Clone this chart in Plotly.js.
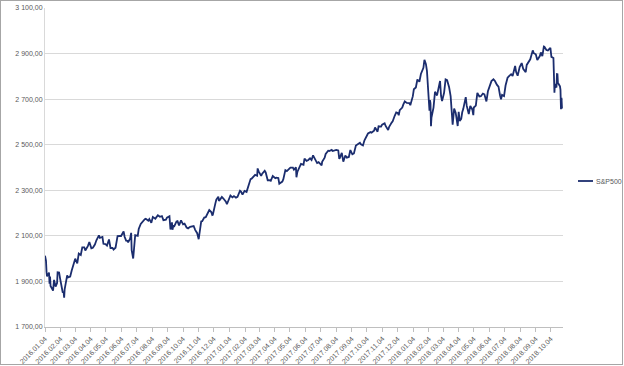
<!DOCTYPE html>
<html>
<head>
<meta charset="utf-8">
<script src="https://cdn.plot.ly/plotly-3.0.1.min.js"></script>
<style>
html,body{margin:0;padding:0;background:#fff;}
#wrap{position:relative;width:624px;height:366px;}
#chart{width:624px;height:366px;}
#frame{position:absolute;left:0;top:0;width:621px;height:363px;border:1px solid #a6a6a6;pointer-events:none;}
</style>
</head>
<body>
<div id="wrap"><div id="chart"></div><div id="frame"></div></div>
<script>
const seriesName = "S&P500";
const dates = [
"2016-01-04","2016-01-06","2016-01-07","2016-01-08","2016-01-12","2016-01-13","2016-01-14","2016-01-15","2016-01-20","2016-01-22","2016-01-25","2016-01-28","2016-01-29",
"2016-02-01","2016-02-03","2016-02-05","2016-02-08","2016-02-10","2016-02-11","2016-02-12","2016-02-17","2016-02-19","2016-02-23","2016-02-26",
"2016-03-01","2016-03-04","2016-03-08","2016-03-11","2016-03-15","2016-03-18","2016-03-22","2016-03-24","2016-03-29",
"2016-04-01","2016-04-05","2016-04-08","2016-04-12","2016-04-15","2016-04-20","2016-04-22","2016-04-27","2016-04-29",
"2016-05-03","2016-05-06","2016-05-10","2016-05-13","2016-05-17","2016-05-19","2016-05-23","2016-05-27",
"2016-06-01","2016-06-03","2016-06-08","2016-06-10","2016-06-13","2016-06-16","2016-06-17","2016-06-21","2016-06-23","2016-06-24","2016-06-27","2016-06-30",
"2016-07-01","2016-07-06","2016-07-08","2016-07-12","2016-07-15","2016-07-20","2016-07-22","2016-07-27","2016-07-29",
"2016-08-02","2016-08-05","2016-08-10","2016-08-15","2016-08-19","2016-08-23","2016-08-26","2016-08-31",
"2016-09-02","2016-09-07","2016-09-09","2016-09-12","2016-09-13","2016-09-15","2016-09-16","2016-09-21","2016-09-23","2016-09-26","2016-09-30",
"2016-10-04","2016-10-07","2016-10-11","2016-10-14","2016-10-18","2016-10-21","2016-10-25","2016-10-28",
"2016-11-01","2016-11-04","2016-11-07","2016-11-09","2016-11-11","2016-11-15","2016-11-18","2016-11-22","2016-11-25","2016-11-29",
"2016-12-01","2016-12-02","2016-12-07","2016-12-09","2016-12-13","2016-12-14","2016-12-16","2016-12-20","2016-12-23","2016-12-28","2016-12-30",
"2017-01-03","2017-01-06","2017-01-10","2017-01-13","2017-01-17","2017-01-20","2017-01-25","2017-01-27","2017-01-30",
"2017-02-03","2017-02-07","2017-02-10","2017-02-15","2017-02-17","2017-02-22","2017-02-24","2017-02-28",
"2017-03-01","2017-03-03","2017-03-08","2017-03-10","2017-03-15","2017-03-17","2017-03-21","2017-03-24","2017-03-27","2017-03-31",
"2017-04-05","2017-04-07","2017-04-11","2017-04-13","2017-04-19","2017-04-21","2017-04-25","2017-04-28",
"2017-05-02","2017-05-05","2017-05-10","2017-05-12","2017-05-16","2017-05-17","2017-05-19","2017-05-24","2017-05-26","2017-05-31",
"2017-06-02","2017-06-06","2017-06-09","2017-06-13","2017-06-16","2017-06-19","2017-06-23","2017-06-27","2017-06-30",
"2017-07-06","2017-07-07","2017-07-12","2017-07-14","2017-07-19","2017-07-21","2017-07-26","2017-07-28",
"2017-08-01","2017-08-04","2017-08-08","2017-08-10","2017-08-11","2017-08-15","2017-08-17","2017-08-18","2017-08-22","2017-08-25","2017-08-29",
"2017-09-01","2017-09-05","2017-09-08","2017-09-12","2017-09-15","2017-09-20","2017-09-22","2017-09-26","2017-09-29",
"2017-10-04","2017-10-06","2017-10-11","2017-10-13","2017-10-18","2017-10-20","2017-10-25","2017-10-27",
"2017-11-01","2017-11-03","2017-11-08","2017-11-10","2017-11-15","2017-11-17","2017-11-22","2017-11-24","2017-11-28",
"2017-12-01","2017-12-04","2017-12-06","2017-12-08","2017-12-13","2017-12-15","2017-12-18","2017-12-22","2017-12-27","2017-12-29",
"2018-01-03","2018-01-05","2018-01-09","2018-01-12","2018-01-16","2018-01-19","2018-01-24","2018-01-26","2018-01-29","2018-01-31",
"2018-02-02","2018-02-05","2018-02-06","2018-02-07","2018-02-08","2018-02-09","2018-02-13","2018-02-16","2018-02-20","2018-02-23","2018-02-26","2018-02-28",
"2018-03-02","2018-03-06","2018-03-09","2018-03-12","2018-03-16","2018-03-19","2018-03-22","2018-03-23","2018-03-26","2018-03-29",
"2018-04-02","2018-04-04","2018-04-06","2018-04-09","2018-04-11","2018-04-13","2018-04-18","2018-04-20","2018-04-24","2018-04-27",
"2018-05-01","2018-05-03","2018-05-04","2018-05-08","2018-05-11","2018-05-15","2018-05-18","2018-05-22","2018-05-25","2018-05-29",
"2018-06-01","2018-06-06","2018-06-08","2018-06-12","2018-06-15","2018-06-19","2018-06-22","2018-06-25","2018-06-27","2018-06-29",
"2018-07-03","2018-07-06","2018-07-10","2018-07-13","2018-07-17","2018-07-20","2018-07-25","2018-07-27","2018-07-30",
"2018-08-03","2018-08-07","2018-08-10","2018-08-15","2018-08-17","2018-08-21","2018-08-24","2018-08-29","2018-08-31",
"2018-09-04","2018-09-07","2018-09-12","2018-09-14","2018-09-17","2018-09-20","2018-09-21","2018-09-25","2018-09-28",
"2018-10-03","2018-10-05","2018-10-09","2018-10-10","2018-10-11","2018-10-12","2018-10-15","2018-10-16","2018-10-17","2018-10-18","2018-10-19","2018-10-22","2018-10-23","2018-10-24","2018-10-25","2018-10-26"
];
const values = [
2012.66,1990.26,1943.09,1922.03,1938.68,1890.28,1921.84,1880.33,1859.33,1906.90,1877.08,1893.36,1940.24,
1939.38,1912.53,1880.05,1853.44,1851.86,1829.08,1864.78,1926.82,1917.78,1921.27,1948.05,
1978.35,1999.99,1979.26,2022.19,2015.93,2049.58,2049.80,2035.94,2055.01,
2072.78,2045.17,2047.60,2061.72,2080.73,2102.40,2091.58,2095.15,2065.30,
2063.37,2057.14,2084.39,2046.61,2047.21,2040.04,2048.04,2099.06,
2099.33,2099.13,2119.12,2096.07,2079.06,2077.99,2071.22,2088.90,2113.32,2037.41,2000.54,2098.86,
2102.95,2099.73,2129.90,2152.14,2161.74,2173.02,2175.03,2166.58,2173.60,
2157.03,2182.87,2175.49,2190.15,2183.87,2186.90,2169.04,2170.95,
2179.98,2186.16,2127.81,2159.04,2127.02,2147.26,2139.16,2163.12,2164.69,2146.10,2168.27,
2150.49,2153.74,2136.73,2132.98,2139.60,2141.16,2143.16,2126.41,
2111.72,2085.18,2131.52,2163.26,2164.45,2180.39,2181.90,2202.94,2213.35,2204.66,
2191.08,2191.95,2241.35,2259.53,2271.72,2253.28,2258.07,2270.76,2263.79,2249.92,2238.83,
2257.83,2276.98,2268.90,2274.64,2267.89,2271.31,2298.37,2294.69,2280.90,
2297.42,2293.08,2316.10,2349.25,2351.16,2362.82,2367.34,2363.64,
2395.96,2383.12,2362.98,2372.60,2385.26,2378.25,2344.02,2343.98,2341.59,2362.72,
2352.95,2355.54,2353.78,2328.95,2338.17,2348.69,2388.61,2384.20,
2391.17,2399.29,2399.63,2390.90,2400.67,2357.03,2381.73,2404.39,2415.82,2411.80,
2439.07,2429.33,2431.77,2440.35,2433.15,2453.46,2438.30,2419.38,2423.41,
2409.75,2425.18,2443.25,2459.27,2473.83,2472.54,2477.57,2472.10,
2476.35,2476.83,2474.92,2438.21,2441.32,2464.61,2430.01,2425.55,2452.51,2443.05,2446.30,
2476.55,2457.85,2461.43,2496.48,2500.23,2508.24,2502.22,2496.84,2519.36,
2537.74,2549.33,2555.24,2553.17,2561.26,2575.21,2557.15,2581.07,
2579.36,2587.84,2594.38,2582.30,2564.62,2578.85,2597.08,2602.42,2627.04,
2642.22,2639.44,2629.27,2651.50,2662.85,2675.81,2690.16,2683.34,2682.62,2673.61,
2713.06,2743.15,2751.29,2786.24,2776.42,2810.30,2837.54,2872.87,2853.53,2823.81,
2762.13,2648.94,2695.14,2681.66,2581.00,2619.55,2662.94,2732.22,2716.26,2747.30,2779.60,2713.83,
2691.25,2728.12,2786.57,2783.02,2752.01,2712.92,2643.69,2588.26,2658.55,2640.87,
2581.88,2644.69,2604.47,2613.16,2642.19,2656.30,2708.64,2670.14,2634.56,2669.91,
2654.80,2629.73,2663.42,2671.92,2727.72,2711.45,2712.97,2724.44,2721.33,2689.86,
2734.62,2772.35,2779.03,2786.85,2779.66,2762.59,2754.88,2717.07,2699.63,2718.37,
2713.22,2759.82,2793.84,2801.31,2809.55,2801.83,2846.07,2818.82,2802.60,
2840.35,2858.45,2833.28,2818.37,2850.13,2862.96,2874.69,2914.04,2901.52,
2896.72,2871.68,2888.92,2904.98,2888.80,2930.75,2929.67,2915.56,2913.98,
2925.51,2885.57,2880.34,2785.68,2728.37,2767.13,2750.79,2809.92,2809.21,2768.78,2767.78,2755.88,2740.69,2656.10,2705.57,2658.69
];
const yTicks = [1700,1900,2100,2300,2500,2700,2900,3100];

const trace = {
  type: 'scatter', mode: 'lines', name: seriesName,
  x: dates, y: values,
  line: {color: '#1b2d6e', width: 1.8},
  hoverinfo: 'skip'
};

const plotL = 45, plotR = 563, plotT = 8, plotB = 327;
const pw = plotR - plotL, ph = plotB - plotT;
const legY = (plotB - 181) / ph;

const layout = {
  width: 624, height: 366,
  margin: {l: plotL, r: 624 - plotR, t: plotT, b: 366 - plotB, pad: 0},
  paper_bgcolor: '#ffffff', plot_bgcolor: '#ffffff',
  separators: ', ',
  showlegend: false,
  font: {family: 'Liberation Sans, Arial, sans-serif', size: 7, color: '#595959'},
  xaxis: {
    type: 'date',
    range: ['2016-01-04', '2018-10-28'],
    tick0: '2016-01-04', dtick: 'M1', tickformat: '%Y.%m.%d',
    tickangle: -45,
    ticks: 'outside', ticklen: 4, tickcolor: '#bfbfbf', tickwidth: 1,
    showline: true, linecolor: '#bfbfbf', linewidth: 1,
    showgrid: false, zeroline: false,
    tickfont: {size: 7, color: '#595959'}
  },
  yaxis: {
    range: [1700, 3100],
    tickvals: yTicks,
    tickformat: ',.2f',
    showgrid: true, gridcolor: '#d9d9d9', gridwidth: 1,
    showline: true, linecolor: '#d9d9d9', linewidth: 1,
    zeroline: false, ticks: '', 
    tickfont: {size: 7, color: '#595959'}
  },
  shapes: [{
    type: 'line', xref: 'paper', yref: 'paper',
    x0: (578 - plotL) / pw, x1: (593 - plotL) / pw, y0: legY, y1: legY,
    line: {color: '#1b2d6e', width: 1.8}
  }],
  annotations: [{
    xref: 'paper', yref: 'paper', x: (594 - plotL) / pw, y: legY,
    xanchor: 'left', yanchor: 'middle', showarrow: false,
    text: seriesName, font: {size: 7, color: '#595959'}
  }]
};

Plotly.newPlot('chart', [trace], layout, {staticPlot: true, displayModeBar: false});
</script>
</body>
</html>
